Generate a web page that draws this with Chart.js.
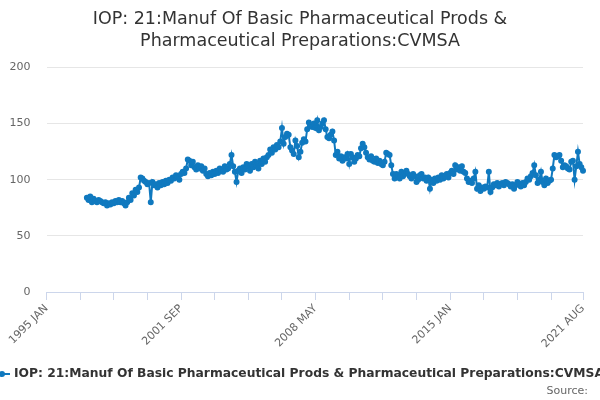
<!DOCTYPE html>
<html lang="en">
<head>
<meta charset="UTF-8">
<title>IOP: 21 Pharmaceutical CVMSA</title>
<script src="https://cdn.jsdelivr.net/npm/chart.js"></script>
<style>
  html, body { margin: 0; padding: 0; background: #fff; }
</style>
</head>
<body>
<canvas id="chart" width="600" height="400"></canvas>
<script>
// axis months: 1995 JAN .. 2021 AUG
const monthNames = ['JAN', 'FEB', 'MAR', 'APR', 'MAY', 'JUN', 'JUL', 'AUG', 'SEP', 'OCT', 'NOV', 'DEC'];
const firstYear = 1995;
const lastYear = 2021;
const lastMonthIndex = 7; // AUG
const dataStart = '1997 JAN';

// monthly index values, 1997 JAN onwards
const values = [
  84, 82, 85, 80, 83, 81, 80, 82, 81, 80, 79, 80,         // 1997
  77, 79, 78, 80, 79, 81, 80, 82, 80, 81, 79, 77,         // 1998
  80, 84, 82, 88, 86, 91, 89, 93, 102, 101, 99, 98,       // 1999
  96, 97, 80, 98, 95, 96, 93, 97, 95, 98, 96, 99,         // 2000
  97, 100, 99, 102, 101, 104, 103, 100, 105, 107, 106, 110, // 2001
  118, 117, 113, 116, 111, 109, 113, 110, 112, 108, 110, 105, // 2002
  103, 106, 104, 107, 105, 108, 106, 110, 108, 107, 112, 109, // 2003
  110, 114, 122, 112, 107, 98, 108, 110, 106, 111, 109, 114,  // 2004
  112, 108, 114, 111, 116, 113, 110, 117, 114, 119, 116, 120, // 2005
  122, 127, 124, 129, 127, 131, 129, 134, 146, 132, 138, 141, // 2006
  140, 129, 126, 123, 135, 130, 120, 125, 133, 136, 134, 145, // 2007
  151, 148, 147, 150, 146, 153, 144, 147, 150, 153, 145, 138, // 2008
  137, 140, 143, 135, 122, 125, 119, 121, 117, 120, 119, 123, // 2009
  114, 123, 120, 116, 119, 122, 121, 128, 132, 129, 124, 120, // 2010
  118, 121, 117, 116, 119, 115, 117, 114, 113, 116, 124, 123, // 2011
  122, 113, 105, 101, 105, 104, 101, 107, 103, 106, 108, 105, // 2012
  103, 101, 105, 103, 98, 100, 104, 105, 101, 102, 99, 102,   // 2013
  92, 100, 97, 101, 99, 102, 100, 104, 101, 103, 105, 102,    // 2014
  106, 108, 105, 113, 109, 111, 108, 112, 107, 106, 101, 98,  // 2015
  99, 97, 101, 107, 92, 95, 90, 93, 92, 94, 93, 107,          // 2016
  89, 93, 96, 95, 97, 94, 96, 97, 95, 98, 97, 96,             // 2017
  94, 96, 92, 95, 98, 96, 94, 97, 95, 98, 101, 100,           // 2018
  103, 106, 113, 104, 97, 100, 107, 98, 95, 101, 97, 99,      // 2019
  100, 110, 122, 120, 121, 122, 117, 111, 113, 112, 110, 109, // 2020
  116, 117, 100, 112, 125, 114, 111, 108                      // 2021
];

const seriesName = 'IOP: 21:Manuf Of Basic Pharmaceutical Prods & Pharmaceutical Preparations:CVMSA';
const titleLines = ['IOP: 21:Manuf Of Basic Pharmaceutical Prods &', 'Pharmaceutical Preparations:CVMSA'];
const tickStep = 20;   // minor tick marks every 20 months
const labelStep = 80;  // labelled every 80 months
const lineColor = '#1079bf';

// build category labels
const labels = [];
for (let y = firstYear; y <= lastYear; y++) {
  for (let m = 0; m < 12; m++) {
    if (y === lastYear && m > lastMonthIndex) break;
    labels.push(y + ' ' + monthNames[m]);
  }
}
const offset = labels.indexOf(dataStart);
const series = labels.map((l, i) => (i < offset ? null : values[i - offset]));

// legend + source text under the axis
const footer = {
  id: 'footer',
  afterDraw(chart) {
    const ctx = chart.ctx;
    ctx.save();
    ctx.strokeStyle = lineColor;
    ctx.lineWidth = 2;
    ctx.beginPath();
    ctx.moveTo(-6, 374);
    ctx.lineTo(10, 374);
    ctx.stroke();
    ctx.fillStyle = lineColor;
    ctx.beginPath();
    ctx.arc(2, 374, 3, 0, Math.PI * 2);
    ctx.fill();
    ctx.font = 'bold 12.3px "DejaVu Sans"';
    ctx.fillStyle = '#333333';
    ctx.textAlign = 'left';
    ctx.textBaseline = 'middle';
    ctx.fillText(seriesName, 14, 374);
    ctx.font = '11px "DejaVu Sans"';
    ctx.fillStyle = '#666666';
    ctx.textAlign = 'right';
    ctx.fillText('Source:', 588, 391);
    ctx.restore();
  }
};

const ctx = document.getElementById('chart').getContext('2d');
new Chart(ctx, {
  type: 'line',
  data: {
    labels: labels,
    datasets: [{
      label: seriesName,
      data: series,
      borderColor: lineColor,
      backgroundColor: lineColor,
      borderWidth: 2,
      pointRadius: 2,
      pointHoverRadius: 2,
      tension: 0,
      fill: false
    }]
  },
  options: {
    responsive: false,
    animation: false,
    plugins: {
      legend: { display: false },
      tooltip: { enabled: false },
      title: {
        display: true,
        text: titleLines,
        color: '#333333',
        font: { family: 'DejaVu Sans', size: 17.5, weight: 'normal', lineHeight: 1.27 },
        padding: { top: 8, bottom: 15 }
      }
    },
    scales: {
      x: {
        type: 'category',
        offset: false,
        grid: { drawOnChartArea: false, drawTicks: true, tickLength: 8, color: '#ccd6eb' },
        border: { display: true, color: '#ccd6eb' },
        afterBuildTicks: function (scale) {
          scale.ticks = scale.ticks.filter(t => t.value % tickStep === 0 || t.value === labels.length - 1);
        },
        afterFit: function (scale) { scale.height = 108; },
        ticks: {
          autoSkip: false,
          minRotation: 45,
          maxRotation: 45,
          color: '#666666',
          padding: 2,
          font: { family: 'DejaVu Sans', size: 11 },
          callback: function (value) {
            return (value % labelStep === 0 || value === labels.length - 1) ? this.getLabelForValue(value) : '';
          }
        }
      },
      y: {
        min: 0,
        max: 200,
        grid: { color: '#e6e6e6', drawTicks: false },
        border: { display: false },
        afterFit: function (scale) { scale.width = 46.5; },
        ticks: {
          stepSize: 50,
          padding: 16,
          color: '#666666',
          font: { family: 'DejaVu Sans', size: 11 }
        }
      },
      // empty right-hand strip so the title stays centred on the full width
      yRight: {
        position: 'right',
        min: 0,
        max: 1,
        grid: { display: false },
        border: { display: false },
        ticks: { display: false },
        afterFit: function (scale) { scale.width = 17; }
      }
    }
  },
  plugins: [footer]
});
</script>
</body>
</html>
